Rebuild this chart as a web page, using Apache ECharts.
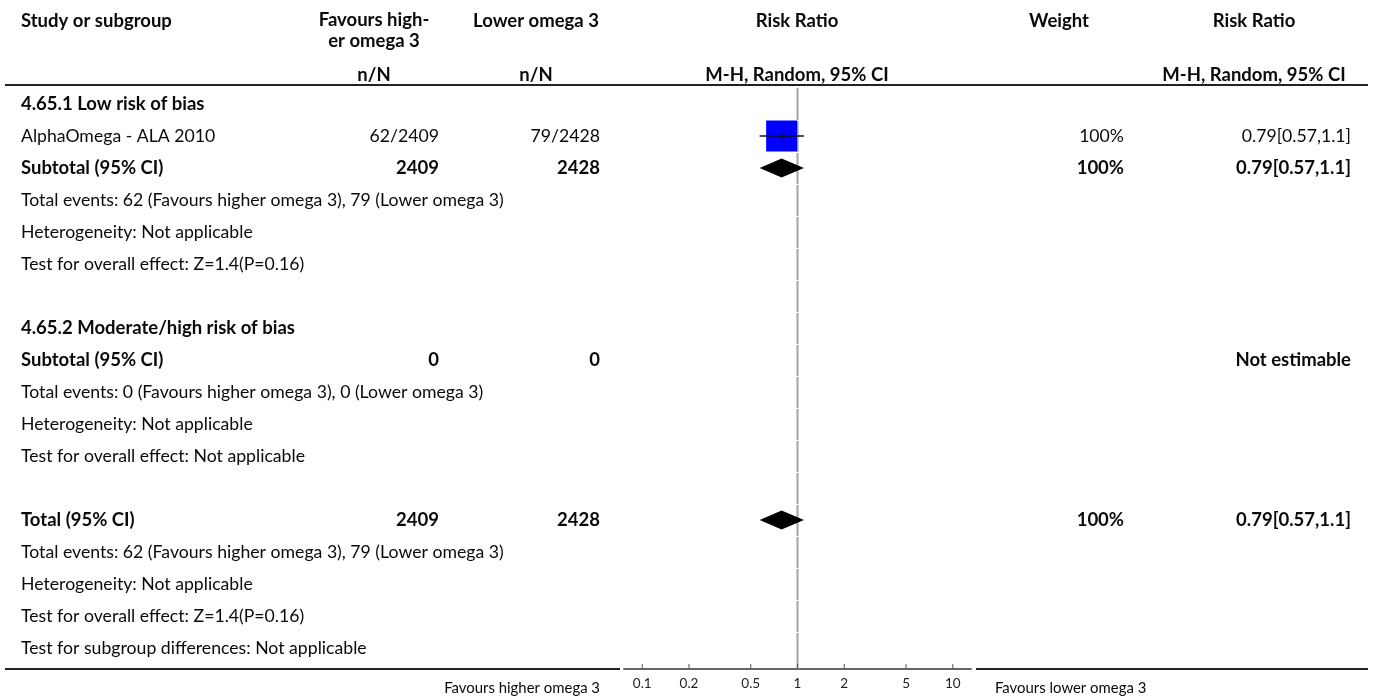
<!DOCTYPE html>
<html><head><meta charset="utf-8">
<script src="https://cdn.jsdelivr.net/npm/echarts@6.0.0/dist/echarts.min.js"></script>
<style>html,body{margin:0;padding:0;background:#fff}#c{width:1375px;height:697px}</style>
</head><body><div id="c"></div>
<script>
// ---------------- data ----------------
const rowLabels = [
  '4.65.1 Low risk of bias',
  'AlphaOmega - ALA 2010',
  'Subtotal (95% CI)',
  'Total events: 62 (Favours higher omega 3), 79 (Lower omega 3)',
  'Heterogeneity: Not applicable',
  'Test for overall effect: Z=1.4(P=0.16)',
  '',
  '4.65.2 Moderate/high risk of bias',
  'Subtotal (95% CI)',
  'Total events: 0 (Favours higher omega 3), 0 (Lower omega 3)',
  'Heterogeneity: Not applicable',
  'Test for overall effect: Not applicable',
  '',
  'Total (95% CI)',
  'Total events: 62 (Favours higher omega 3), 79 (Lower omega 3)',
  'Heterogeneity: Not applicable',
  'Test for overall effect: Z=1.4(P=0.16)',
  'Test for subgroup differences: Not applicable'
];
const rowBold = [1,0,1,0,0,0,0,1,1,0,0,0,0,1,0,0,0,0];
const higherCol = ['','62/2409','2409','','','','','','0','','','','','2409','','','',''];
const lowerCol  = ['','79/2428','2428','','','','','','0','','','','','2428','','','',''];
const weightCol = ['','100%','100%','','','','','','','','','','','100%','','','',''];
const rrCol     = ['','0.79[0.57,1.1]','0.79[0.57,1.1]','','','','','','Not estimable','','','','','0.79[0.57,1.1]','','','',''];

const studyRows   = [1];
const studyRR     = [0.79];
const studyLow    = [0.57];
const studyHigh   = [1.1];
const studyWeight = [100];

const diamondRows = [2, 13];
const diamondRR   = [0.79, 0.79];
const diamondLow  = [0.57, 0.57];
const diamondHigh = [1.1, 1.1];

const axisTicks = [0.1, 0.2, 0.5, 1, 2, 5, 10];
const axisTickLabels = ['0.1', '0.2', '0.5', '1', '2', '5', '10'];
const favourLeft = 'Favours higher omega 3';
const favourRight = 'Favours lower omega 3';

const headerStudy = 'Study or subgroup';
const headerHigher = 'Favours high-\ner omega 3';
const headerLower = 'Lower omega 3';
const headerNN = 'n/N';
const headerRR = 'Risk Ratio';
const headerMethod = 'M-H, Random, 95% CI';
const headerWeight = 'Weight';

// ---------------- layout ----------------
const FONT = 'Lato, sans-serif';
const ctx = document.createElement('canvas').getContext('2d');
function fit(text, weight, target) {
  ctx.font = weight + ' 100px ' + FONT;
  return 100 * target / ctx.measureText(text).width;
}
const fsN = fit('Heterogeneity: Not applicable', 'normal', 232);
const fsB = fit('Study or subgroup', 'bold', 151);
const fsFav = fit('Favours higher omega 3', 'normal', 156);
const TXT = '#0a0a0a';

const TOP = 88, AXIS_Y = 669, ROW_H = 32;
const HEIGHT = AXIS_Y - TOP;
const yMin = -0.5, yMax = HEIGHT / ROW_H - 0.5;
const lastRow = rowLabels.length - 1;

const colX = { label: 21, higher: 439, lower: 600, weight: 1124, rr: 1351 };

function txt(text, x, y, opt) {
  opt = opt || {};
  return {
    type: 'text',
    style: {
      text: text, x: x, y: y,
      fill: opt.fill || TXT,
      fontSize: opt.size || fsN,
      fontFamily: FONT,
      fontWeight: opt.bold ? 'bold' : 'normal',
      align: opt.align || 'left', textAlign: opt.align || 'left',
      verticalAlign: 'middle', textVerticalAlign: 'middle',
      lineHeight: opt.lh || undefined
    }
  };
}

const chart = echarts.init(document.getElementById('c'));

const graphics = [
  txt(headerStudy, 21, 21, {bold: true, size: fsB}),
  txt(headerHigher, 374, 31, {bold: true, size: fsB, align: 'center', lh: 21}),
  txt(headerLower, 536, 21, {bold: true, size: fsB, align: 'center'}),
  txt(headerNN, 374, 75, {bold: true, size: fsB, align: 'center'}),
  txt(headerNN, 536, 75, {bold: true, size: fsB, align: 'center'}),
  txt(headerRR, 797, 21, {bold: true, size: fsB, align: 'center'}),
  txt(headerMethod, 797, 75, {bold: true, size: fsB, align: 'center'}),
  txt(headerWeight, 1059, 21, {bold: true, size: fsB, align: 'center'}),
  txt(headerRR, 1254, 21, {bold: true, size: fsB, align: 'center'}),
  txt(headerMethod, 1254, 75, {bold: true, size: fsB, align: 'center'}),
  {type: 'line', shape: {x1: 5, y1: 85, x2: 1368, y2: 85}, style: {stroke: '#222', lineWidth: 2}},
  {type: 'line', shape: {x1: 5, y1: AXIS_Y, x2: 620, y2: AXIS_Y}, style: {stroke: '#222', lineWidth: 2}},
  {type: 'line', shape: {x1: 976, y1: AXIS_Y, x2: 1368, y2: AXIS_Y}, style: {stroke: '#222', lineWidth: 2}},
  txt(favourLeft, 600, 688, {align: 'right', size: fsFav}),
  txt(favourRight, 995, 688, {align: 'left', size: fsFav})
];

const option = {
  animation: false,
  backgroundColor: '#fff',
  graphic: graphics.map(g => Object.assign({silent: true}, g)),
  grid: [
    {left: 0, width: 1375, top: TOP, height: HEIGHT},
    {left: 624, width: 347, top: TOP, height: HEIGHT}
  ],
  xAxis: [
    {gridIndex: 0, type: 'value', min: 0, max: 1375, show: false},
    {gridIndex: 1, type: 'log', logBase: 10, min: 0.0763, max: 13.1,
     axisLine: {show: true, onZero: false, lineStyle: {color: '#666', width: 2}},
     axisTick: {show: false}, axisLabel: {show: false}, splitLine: {show: false}}
  ],
  yAxis: [
    {gridIndex: 0, type: 'value', min: yMin, max: yMax, inverse: true, show: false},
    {gridIndex: 1, type: 'value', min: yMin, max: yMax, inverse: true, show: false}
  ],
  series: [
    {
      type: 'custom', xAxisIndex: 0, yAxisIndex: 0, silent: true,
      data: rowLabels.map((_, i) => [0, i]),
      encode: {x: 0, y: 1},
      renderItem: function (params, api) {
        const i = params.dataIndex;
        const y = api.coord([0, i])[1];
        const b = !!rowBold[i];
        const o = {bold: b, size: b ? fsB : fsN};
        const kids = [txt(rowLabels[i], colX.label, y, o)];
        if (higherCol[i]) kids.push(txt(higherCol[i], colX.higher, y, Object.assign({align: 'right'}, o)));
        if (lowerCol[i]) kids.push(txt(lowerCol[i], colX.lower, y, Object.assign({align: 'right'}, o)));
        if (weightCol[i]) kids.push(txt(weightCol[i], colX.weight, y, Object.assign({align: 'right'}, o)));
        if (rrCol[i]) kids.push(txt(rrCol[i], colX.rr, y, Object.assign({align: 'right'}, o)));
        return {type: 'group', children: kids};
      }
    },
    {
      type: 'custom', xAxisIndex: 1, yAxisIndex: 1, silent: true, z: 1,
      data: rowLabels.map((_, i) => [1, i]),
      encode: {x: 0, y: 1},
      renderItem: function (params, api) {
        const k = api.value(1);
        const t = api.coord([1, k - 0.5]);
        const b = api.coord([1, k === lastRow ? yMax : k + 0.5]);
        return {type: 'line', shape: {x1: t[0], y1: t[1] + (k === 0 ? 0 : 1), x2: b[0], y2: b[1]},
                style: {stroke: '#a4a4a4', lineWidth: 2}};
      }
    },
    {
      type: 'custom', xAxisIndex: 1, yAxisIndex: 1, silent: true, z: 3,
      data: studyRows.map((r, i) => [studyRR[i], r, studyLow[i], studyHigh[i], studyWeight[i]]),
      encode: {x: 0, y: 1},
      renderItem: function (params, api) {
        const row = api.value(1);
        const p = api.coord([api.value(0), row]);
        const lo = api.coord([api.value(2), row]);
        const hi = api.coord([api.value(3), row]);
        const s = 31 * Math.sqrt(api.value(4) / 100);
        return {type: 'group', children: [
          {type: 'rect', shape: {x: p[0] - s / 2, y: p[1] - s / 2, width: s, height: s}, style: {fill: '#0000ff'}},
          {type: 'line', shape: {x1: lo[0], y1: p[1], x2: hi[0], y2: p[1]}, style: {stroke: '#111', lineWidth: 1.5}},
          {type: 'line', shape: {x1: p[0], y1: p[1] - 4, x2: p[0], y2: p[1] + 4}, style: {stroke: '#111', lineWidth: 1.5}}
        ]};
      }
    },
    {
      type: 'custom', xAxisIndex: 1, yAxisIndex: 1, silent: true, z: 3,
      data: diamondRows.map((r, i) => [diamondRR[i], r, diamondLow[i], diamondHigh[i]]),
      encode: {x: 0, y: 1},
      renderItem: function (params, api) {
        const row = api.value(1);
        const p = api.coord([api.value(0), row]);
        const lo = api.coord([api.value(2), row]);
        const hi = api.coord([api.value(3), row]);
        const h = 9.5;
        return {type: 'polygon', shape: {points: [[lo[0], p[1]], [p[0], p[1] - h], [hi[0], p[1]], [p[0], p[1] + h]]},
                style: {fill: '#000'}};
      }
    },
    {
      type: 'custom', xAxisIndex: 1, yAxisIndex: 1, silent: true, z: 4,
      data: axisTicks.map(v => [v, yMax]),
      encode: {x: 0, y: 1},
      clip: false,
      renderItem: function (params, api) {
        const p = api.coord([api.value(0), yMax]);
        return {type: 'group', children: [
          {type: 'line', shape: {x1: p[0], y1: p[1] - 5, x2: p[0], y2: p[1]}, style: {stroke: '#555', lineWidth: 1}},
          txt(axisTickLabels[params.dataIndex], p[0], p[1] + 15, {align: 'center', size: 13.5, fill: '#222'})
        ]};
      }
    }
  ]
};
chart.setOption(option);
</script>
</body></html>
